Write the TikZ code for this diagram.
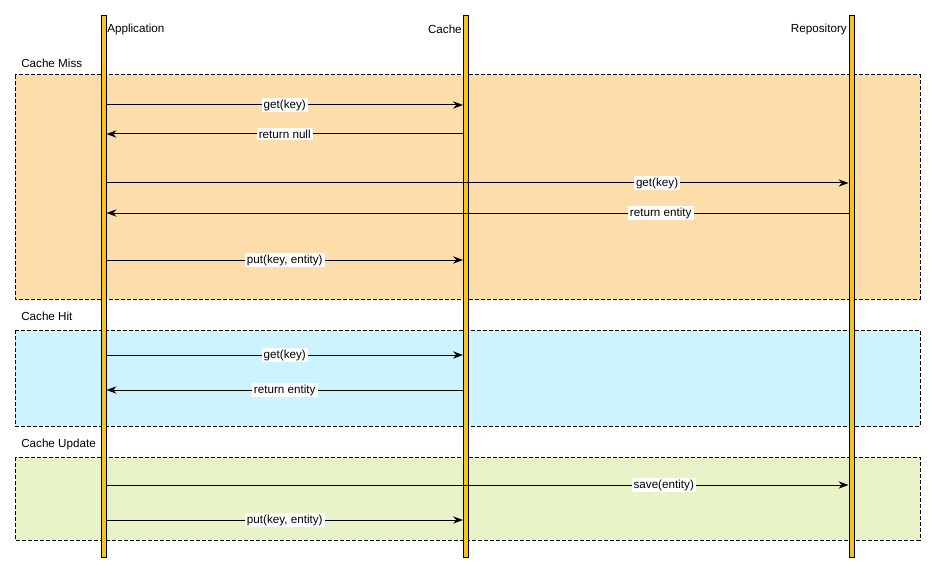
\documentclass[tikz,border=0pt]{standalone}
\usepackage{fontspec}
\setmainfont{Liberation Sans}
\usetikzlibrary{arrows.meta,positioning,calc}

\definecolor{missfill}{RGB}{253,222,171}
\definecolor{hitfill}{RGB}{205,243,254}
\definecolor{updfill}{RGB}{232,243,200}
\definecolor{barfill}{RGB}{245,196,30}

\tikzset{
  lifeline/.style={draw=black, fill=barfill, line width=0.75pt, inner sep=0pt,
                   minimum width=3.75pt, minimum height=406.5pt, anchor=north},
  frame/.style={draw=black, line width=0.75pt, dash pattern=on 3pt off 1.5pt},
  msg/.style={-{Stealth[length=7.5pt,width=5.5pt,inset=2.5pt]}, line width=0.75pt},
  msglabel/.style={fill=white, inner xsep=1.5pt, inner ysep=1.2pt, font=\fontsize{8.75}{9.5}\selectfont},
  title/.style={inner sep=0pt, font=\fontsize{8.75}{9.5}\selectfont}
}

\begin{document}
\begin{tikzpicture}[x=0.75pt,y=-0.75pt]
  \useasboundingbox (0,0) rectangle (935,574);

  % Fragments
  \draw[frame, fill=missfill] (15,75) rectangle (920,299);
  \draw[frame, fill=hitfill] (15,330) rectangle (920,426);
  \draw[frame, fill=updfill] (15,457) rectangle (920,540);
  \node[title, anchor=west] (miss) at (21,63) {Cache Miss};
  \node[title, anchor=west] (hit) at (21,316) {Cache Hit};
  \node[title, anchor=west] (upd) at (21,444) {Cache Update};

  % Lifelines
  \node[lifeline] (app) at (103.5,15) {};
  \node[lifeline] (cache) at (466,15) {};
  \node[lifeline] (repo) at (851.5,15) {};
  \node[title, anchor=west] (appname) at (107,29) {Application};
  \node[title, anchor=east] (cachename) at (462,29) {Cache};
  \node[title, anchor=east] (reponame) at (847,29) {Repository};

  % Messages
  \foreach \i/\y/\src/\dst/\txt/\p in {
      1/105/app.east/cache.west/get(key)/0.5,
      2/134/cache.west/app.east/return null/0.5,
      3/183/app.east/repo.west/get(key)/0.742,
      4/213/repo.west/app.east/return entity/0.253,
      5/260/app.east/cache.west/{put(key, entity)}/0.5,
      6/355/app.east/cache.west/get(key)/0.5,
      7/390/cache.west/app.east/return entity/0.5,
      8/485/app.east/repo.west/save(entity)/0.751,
      9/520/app.east/cache.west/{put(key, entity)}/0.5} {
    \coordinate (m\i) at (0,\y);
    \draw[msg] (\src |- m\i) -- node[msglabel, pos=\p] (l\i) {\txt} (\dst |- m\i);
  }
\end{tikzpicture}
\end{document}
